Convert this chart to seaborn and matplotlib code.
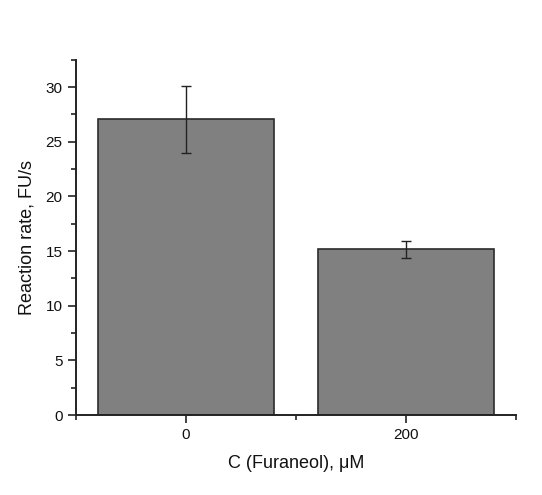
import numpy as np
import pandas as pd
import seaborn as sns
import matplotlib.pyplot as plt
from matplotlib.ticker import MultipleLocator

# data
conc = [0, 200]
rate = [27.05, 15.15]
rate_err = [3.05, 0.75]

sns.set_style("ticks")
plt.rcParams['font.family'] = ['Liberation Sans', 'DejaVu Sans']

df = pd.DataFrame({'conc': conc, 'rate': rate})

fig = plt.figure(figsize=(5.42, 4.95), dpi=100)
ax = fig.add_axes([0.140, 0.1616, 0.812, 0.7175])

sns.barplot(data=df, x='conc', y='rate', native_scale=True, width=0.8,
            color='#808080', saturation=1, edgecolor='#2b2b2b', linewidth=1.2,
            errorbar=None, ax=ax)
ax.errorbar(conc, rate, yerr=rate_err, fmt='none', ecolor='#222222',
            elinewidth=1, capsize=3.5, capthick=1)

ax.set_xlim(-100, 300)
ax.set_ylim(0, 32.5)
ax.set_xticks(conc)
ax.xaxis.set_minor_locator(MultipleLocator(100))
ax.yaxis.set_major_locator(MultipleLocator(5))
ax.yaxis.set_minor_locator(MultipleLocator(2.5))
ax.tick_params(which='major', direction='out', length=6, width=1.2, labelsize=11,
               colors='#222222', labelcolor='#111111')
ax.tick_params(which='minor', direction='out', length=3.5, width=1.2, colors='#222222')
for s in ['left', 'bottom']:
    ax.spines[s].set_linewidth(1.4)
    ax.spines[s].set_color('#222222')
sns.despine(ax=ax)

ax.set_xlabel('C (Furaneol), μM', fontsize=13, labelpad=9, color='#111111')
ax.set_ylabel('Reaction rate, FU/s', fontsize=13, labelpad=7, color='#111111')

fig.savefig('out.png', dpi=100)
